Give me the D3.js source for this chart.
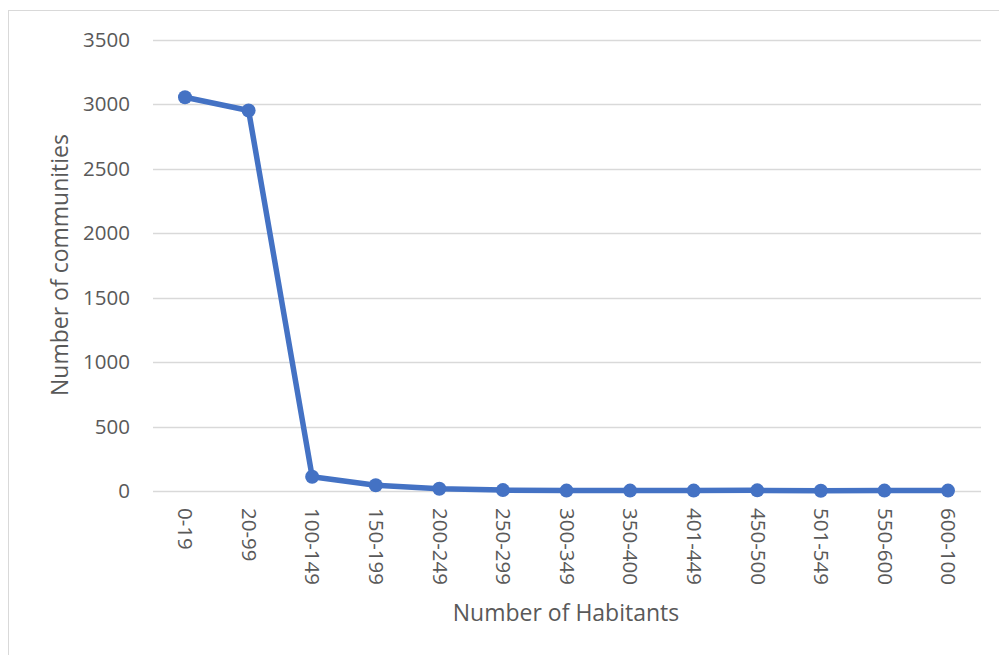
<!DOCTYPE html>
<html>
<head>
<meta charset="utf-8">
<script src="https://cdn.jsdelivr.net/npm/d3@7"></script>
<style>
  html, body { margin: 0; padding: 0; background: #fff; }
  svg { display: block; }
  text { font-family: "Open Sans", sans-serif; fill: #595959; }
</style>
</head>
<body>
<svg id="chart" width="999" height="655"></svg>
<script>
// Habitant ranges and how many communities fall in each
const categories = ["0-19", "20-99", "100-149", "150-199", "200-249", "250-299",
  "300-349", "350-400", "401-449", "450-500", "501-549", "550-600", "600-100"];
const communities = [3052, 2950, 110, 45, 18, 7, 3, 3, 3, 5, 2, 3, 3];
const yTicks = [0, 500, 1000, 1500, 2000, 2500, 3000, 3500];

const svg = d3.select("#chart");
const W = 999, H = 655;
const FONT = "'Open Sans', sans-serif";

// chart frame
svg.append("rect")
  .attr("x", 8.5).attr("y", 10.5)
  .attr("width", W + 10).attr("height", H + 10)
  .attr("fill", "none").attr("stroke", "#d9d9d9").attr("stroke-width", 1);

const x = d3.scalePoint().domain(categories).range([185, 948]);
const y = d3.scaleLinear().domain([0, 3500]).range([491, 39.5]);

// horizontal gridlines
svg.append("g").selectAll("line").data(yTicks).join("line")
  .attr("x1", 153).attr("x2", 981)
  .attr("y1", d => Math.round(y(d)) + 0.5).attr("y2", d => Math.round(y(d)) + 0.5)
  .attr("stroke", "#d9d9d9").attr("stroke-width", 1.5);

// y axis labels
const yAxis = d3.axisLeft(y).tickValues(yTicks).tickFormat(d3.format("d"))
  .tickSize(0).tickPadding(0);
const gy = svg.append("g").attr("transform", "translate(130,0)").call(yAxis);
gy.select(".domain").remove();
gy.selectAll("text").style("font-size", "20.5px").attr("fill", "#595959")
  .style("font-family", FONT);

// x axis labels (rotated, reading downward)
const xAxis = d3.axisBottom(x).tickSize(0).tickPadding(0);
const gx = svg.append("g").attr("transform", "translate(0,508)").call(xAxis);
gx.select(".domain").remove();
gx.selectAll("text")
  .style("font-size", "20.5px").attr("fill", "#595959")
  .style("font-family", FONT)
  .attr("transform", "rotate(90)")
  .attr("x", 0).attr("y", 0).attr("dy", "0.35em")
  .attr("text-anchor", "start");

// data line
const line = d3.line().x((d, i) => x(categories[i])).y(d => y(d));
svg.append("path").datum(communities)
  .attr("d", line)
  .attr("fill", "none").attr("stroke", "#4472C4").attr("stroke-width", 5.5)
  .attr("stroke-linejoin", "round");

svg.append("g").selectAll("circle").data(communities).join("circle")
  .attr("cx", (d, i) => x(categories[i])).attr("cy", d => y(d))
  .attr("r", 7).attr("fill", "#4472C4");

// axis titles
svg.append("text")
  .attr("x", 566).attr("y", 621)
  .attr("text-anchor", "middle").style("font-size", "23px")
  .text("Number of Habitants");

svg.append("text")
  .attr("transform", "translate(68,265) rotate(-90)")
  .attr("text-anchor", "middle").style("font-size", "23px")
  .text("Number of communities");
</script>
</body>
</html>
